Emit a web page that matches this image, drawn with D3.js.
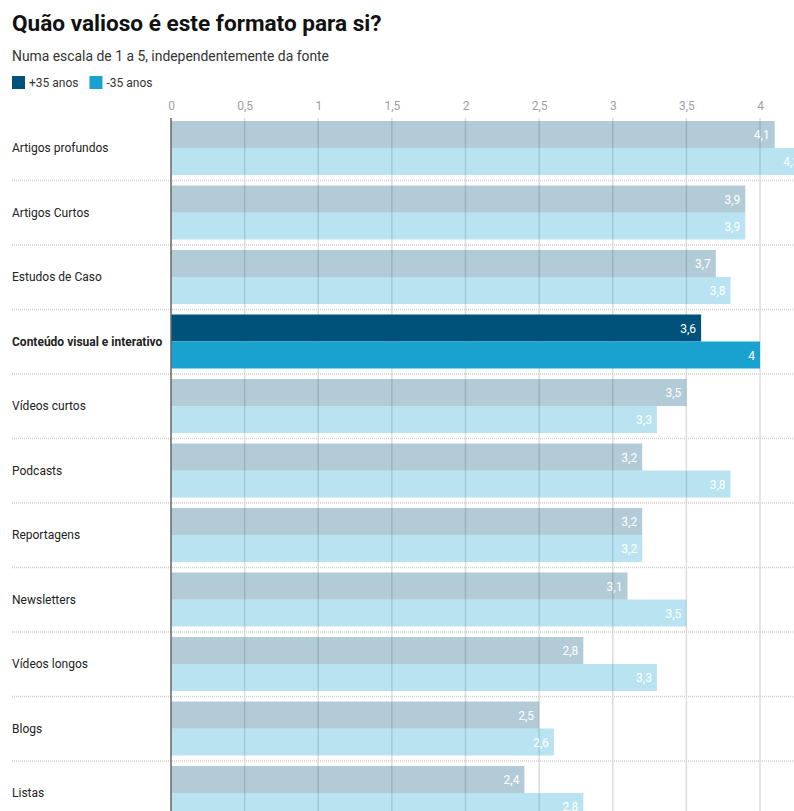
<!DOCTYPE html>
<html><head><meta charset="utf-8">
<script src="https://cdn.jsdelivr.net/npm/d3@7"></script>
<style>
body{margin:0;background:#fff;font-family:Roboto,"Noto Sans",sans-serif;overflow:hidden}
</style></head>
<body>
<svg id="c" width="794" height="811"></svg>
<script>
const categories = ["Artigos profundos","Artigos Curtos","Estudos de Caso","Conteúdo visual e interativo","Vídeos curtos","Podcasts","Reportagens","Newsletters","Vídeos longos","Blogs","Listas"];
const over35 = [4.1,3.9,3.7,3.6,3.5,3.2,3.2,3.1,2.8,2.5,2.4];
const under35 = [4.3,3.9,3.8,4,3.3,3.8,3.2,3.5,3.3,2.6,2.8];
const seriesNames = ["+35 anos","-35 anos"];
const seriesColors = ["#00527a","#19a2cf"];
const tickValues = [0,0.5,1,1.5,2,2.5,3,3.5,4];
const highlight = "Conteúdo visual e interativo";

(function(){
const svg = d3.select("#c");
const fmt = v => String(v).replace(".", ",");

// Title, subtitle
svg.append("text").attr("x",12).attr("y",31).attr("font-size",22.6).attr("font-weight",700)
  .attr("fill","#111").text("Quão valioso é este formato para si?");
svg.append("text").attr("x",12).attr("y",61).attr("font-size",13.9).attr("fill","#333")
  .text("Numa escala de 1 a 5, independentemente da fonte");

// Legend
const leg = svg.append("g").attr("transform","translate(12,76)");
let lx = 0;
seriesNames.forEach((n,i)=>{
  leg.append("rect").attr("x",lx).attr("y",0).attr("width",13).attr("height",13).attr("fill",seriesColors[i]);
  const t = leg.append("text").attr("x",lx+17).attr("y",11).attr("font-size",12).attr("fill","#333").text(n);
  lx += 17 + t.node().getComputedTextLength() + 11;
});

const x = d3.scaleLinear().domain([0,5]).range([171, 171+5*147.25]);
const y = d3.scaleBand().domain(categories).range([116, 116+64.5*categories.length]);
const sub = d3.scaleBand().domain([0,1]).range([5, 59]);

const gTop = 118, gBottom = 811;
// axis labels
const axis = d3.axisTop(x).tickValues(tickValues).tickFormat(fmt).tickSize(0);
const ag = svg.append("g").attr("transform","translate(0,113)").call(axis);
ag.select(".domain").remove();
ag.selectAll("text").attr("font-family","Roboto").attr("font-size",12).attr("fill","#a0a0a0");

// gridlines
svg.append("g").selectAll("line").data(tickValues.filter(d=>d>0)).join("line")
  .attr("x1",d=>x(d)).attr("x2",d=>x(d)).attr("y1",gTop).attr("y2",gBottom)
  .attr("stroke","#dcdcdc").attr("stroke-width",1.5);

// separators
svg.append("g").selectAll("line").data(categories.slice(1)).join("line")
  .attr("x1",12).attr("x2",794).attr("y1",d=>y(d)).attr("y2",d=>y(d))
  .attr("stroke","#d0d0d0").attr("stroke-width",1.5).attr("stroke-dasharray","1,1");

// bars
const rows = svg.append("g").selectAll("g").data(categories).join("g")
  .attr("transform",d=>`translate(0,${y(d)})`);
rows.each(function(cat,ci){
  const g = d3.select(this);
  const hl = cat===highlight;
  [over35[ci], under35[ci]].forEach((v,si)=>{
    g.append("rect").attr("x",x(0)).attr("y",sub(si)).attr("width",x(v)-x(0)).attr("height",sub.bandwidth())
      .attr("fill",seriesColors[si]).attr("fill-opacity",hl?1:0.3);
    g.append("text").attr("x",x(v)-5).attr("y",sub(si)+sub.bandwidth()/2+4.5)
      .attr("text-anchor","end").attr("font-size",12).attr("fill","#fff").text(fmt(v));
  });
  g.append("text").attr("x",12).attr("y",36).attr("font-size",12)
    .attr("font-weight",hl?700:400).attr("fill","#222").text(cat);
});

// zero line
svg.append("line").attr("x1",x(0)).attr("x2",x(0)).attr("y1",gTop).attr("y2",gBottom)
  .attr("stroke","#666").attr("stroke-width",1.5);
})();
</script>
</body></html>
